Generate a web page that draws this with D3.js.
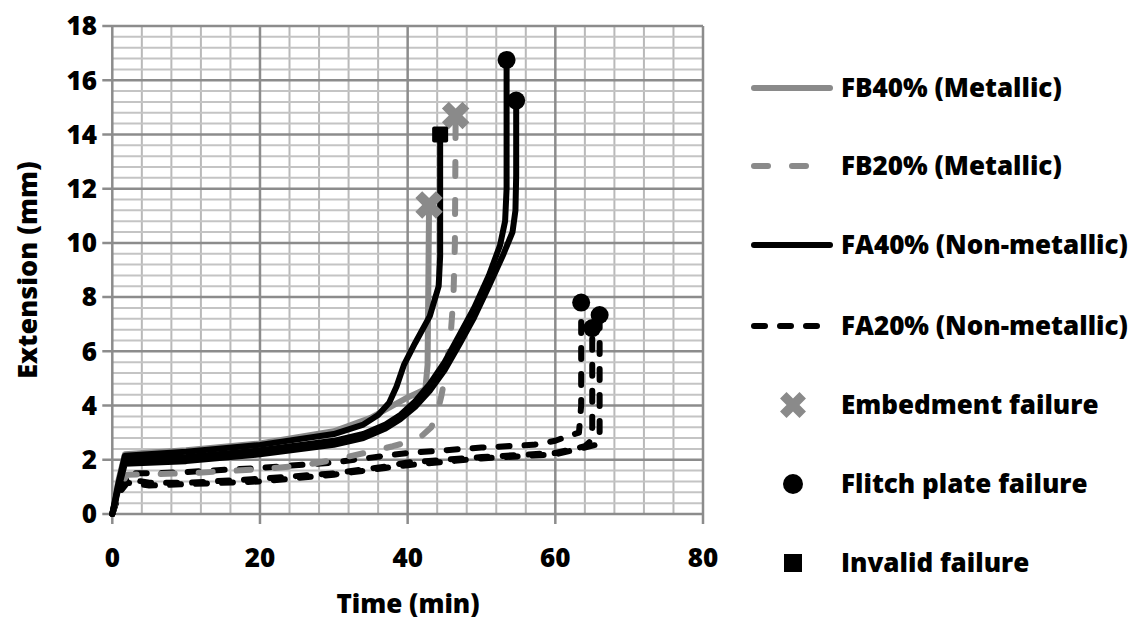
<!DOCTYPE html>
<html>
<head>
<meta charset="utf-8">
<script src="https://cdnjs.cloudflare.com/ajax/libs/d3/7.8.5/d3.min.js"></script>
<style>
  html, body { margin: 0; padding: 0; background: #fff; }
  svg { display: block; font-family: "Open Sans", Lato, sans-serif; font-weight: 800; }
</style>
</head>
<body>
<div id="chart"></div>
<script>
// [time (min), extension (mm)]
var fb40 = [[0,0],[0.8,1.2],[1.7,2.2],[10,2.35],[20,2.6],[30,3.05],[35,3.55],[37,3.85],[40,4.3],[42.4,4.6],[42.7,5.5],[42.9,11.4]];
var fb20 = [[0,0],[1,1.0],[2,1.45],[10,1.5],[20,1.65],[26,1.8],[30,2.0],[35,2.3],[38,2.5],[40,2.65],[42,2.9],[43.2,3.2],[44,3.7],[44.6,4.4],[45.2,5.3],[45.8,6.5],[46.2,8],[46.4,10],[46.5,14.7]];
var fa40a = [[0,0],[0.8,1.1],[1.7,2.15],[10,2.3],[20,2.55],[30,2.95],[34,3.3],[36,3.65],[37.5,4.1],[38.5,4.7],[39.5,5.5],[41,6.3],[43,7.3],[44.2,8.4],[44.4,9.5],[44.4,14]];
var fa40b = [[0,0],[0.8,1.0],[1.7,2.0],[10,2.1],[20,2.35],[30,2.7],[34,2.95],[37,3.3],[39,3.65],[41,4.15],[43,4.8],[45,5.6],[47,6.6],[49,7.6],[51,8.8],[52.5,9.9],[53.2,10.8],[53.4,12],[53.4,16.75]];
var fa40c = [[0,0],[0.8,0.9],[1.7,1.85],[10,1.95],[20,2.2],[30,2.55],[34,2.8],[37,3.15],[39,3.5],[41,3.95],[43,4.55],[45,5.3],[47,6.25],[49,7.25],[51,8.4],[53,9.6],[54.2,10.4],[54.6,11.2],[54.7,12.5],[54.7,15.25]];
var fa20a = [[0,0],[1,0.9],[2,1.5],[5,1.5],[10,1.55],[20,1.7],[30,1.9],[37,2.15],[40,2.25],[50,2.45],[57,2.55],[60,2.7],[62,2.9],[63.2,3.0],[63.5,4],[63.5,7.8]];
var fa20b = [[0,0],[1,0.9],[2,1.3],[5,1.15],[10,1.15],[20,1.3],[30,1.5],[37,1.75],[40,1.9],[50,2.1],[60,2.25],[64,2.5],[64.8,2.7],[65,3.2],[65,6.86]];
var fa20c = [[0,0],[1,0.8],[2,1.15],[5,1.05],[10,1.1],[20,1.2],[30,1.45],[37,1.7],[40,1.8],[50,2.05],[60,2.2],[65.5,2.55],[66,3],[66,7.34]];

var embedment = [[42.9,11.4],[46.5,14.7]];
var flitch = [[53.4,16.75],[54.7,15.25],[63.5,7.8],[65,6.86],[66,7.34]];
var invalid = [[44.4,14.0]];

var xTicks = [0, 20, 40, 60, 80];
var yTicks = [0, 2, 4, 6, 8, 10, 12, 14, 16, 18];
var legendLabels = ["FB40% (Metallic)", "FB20% (Metallic)", "FA40% (Non-metallic)", "FA20% (Non-metallic)",
                    "Embedment failure", "Flitch plate failure", "Invalid failure"];

var width = 1132, height = 622;
var grey = "#8a8a8a";
var svg = d3.select("#chart").append("svg").attr("width", width).attr("height", height);

var x = d3.scaleLinear().domain([0, 80]).range([112.3, 703]);
var y = d3.scaleLinear().domain([0, 18]).range([514, 26]);

// grid
var grid = svg.append("g");
grid.selectAll(".vmin").data(d3.range(0, 81, 4).filter(d => d % 20))
  .enter().append("line")
    .attr("x1", d => x(d)).attr("x2", d => x(d)).attr("y1", y(0)).attr("y2", y(18))
    .attr("stroke", "#b9b9b9").attr("stroke-width", 2);
grid.selectAll(".hmin").data(d3.range(0, 45).map(i => i * 0.4).filter(d => Math.abs(d / 2 - Math.round(d / 2)) > 0.01))
  .enter().append("line")
    .attr("x1", x(0)).attr("x2", x(80)).attr("y1", d => y(d)).attr("y2", d => y(d))
    .attr("stroke", "#c4c4c4").attr("stroke-width", 2);
grid.selectAll(".vmaj").data(xTicks)
  .enter().append("line")
    .attr("x1", d => x(d)).attr("x2", d => x(d)).attr("y1", y(0) + 10).attr("y2", y(18))
    .attr("stroke", "#8c8c8c").attr("stroke-width", 2.5);
grid.selectAll(".hmaj").data(yTicks)
  .enter().append("line")
    .attr("x1", x(0) - 10).attr("x2", x(80)).attr("y1", d => y(d)).attr("y2", d => y(d))
    .attr("stroke", "#8c8c8c").attr("stroke-width", 2.5);

// tick labels
svg.append("g").selectAll("text").data(yTicks).enter().append("text")
    .attr("x", 97).attr("y", d => y(d)).attr("dy", "0.36em")
    .attr("text-anchor", "end").attr("font-size", 26).text(d => d);
svg.append("g").selectAll("text").data(xTicks).enter().append("text")
    .attr("x", d => x(d)).attr("y", 567)
    .attr("text-anchor", "middle").attr("font-size", 26).text(d => d);

svg.append("text").attr("x", 408).attr("y", 613).attr("text-anchor", "middle")
  .attr("font-size", 26).text("Time (min)");
svg.append("text").attr("transform", "translate(37,270) rotate(-90)").attr("text-anchor", "middle")
  .attr("font-size", 27).text("Extension (mm)");

var line = d3.line().x(d => x(d[0])).y(d => y(d[1]));

var styles = {
  fb40: { stroke: grey, dash: null },
  fb20: { stroke: grey, dash: "14 24" },
  fa40: { stroke: "#000", dash: null },
  fa20: { stroke: "#000", dash: "11 15" }
};

function drawSeries(pts, st) {
  svg.append("path").attr("d", line(pts)).attr("fill", "none")
    .attr("stroke", st.stroke).attr("stroke-width", 6)
    .attr("stroke-linecap", "round").attr("stroke-linejoin", "round")
    .attr("stroke-dasharray", st.dash);
}
[fa20a, fa20b, fa20c].forEach(p => drawSeries(p, styles.fa20));
drawSeries(fb20, styles.fb20);
drawSeries(fb40, styles.fb40);
[fa40a, fa40b, fa40c].forEach(p => drawSeries(p, styles.fa40));

// failure markers
var crossPath = d3.symbol().type(d3.symbolCross).size(470)();
svg.append("g").selectAll("path").data(embedment).enter().append("path")
    .attr("d", crossPath).attr("fill", grey)
    .attr("transform", d => "translate(" + x(d[0]) + "," + y(d[1]) + ") rotate(45)");
svg.append("g").selectAll("circle").data(flitch).enter().append("circle")
    .attr("cx", d => x(d[0])).attr("cy", d => y(d[1])).attr("r", 9).attr("fill", "#000");
svg.append("g").selectAll("rect").data(invalid).enter().append("rect")
    .attr("x", d => x(d[0]) - 8).attr("y", d => y(d[1]) - 8).attr("width", 16).attr("height", 16)
    .attr("rx", 2).attr("fill", "#000");

// legend
var legY = [88, 166, 245, 326, 405, 484, 563];
var leg = svg.append("g");
var lineStyles = [styles.fb40, styles.fb20, styles.fa40, styles.fa20];
lineStyles.forEach(function(st, i) {
  leg.append("line").attr("x1", 754).attr("x2", 830).attr("y1", legY[i]).attr("y2", legY[i])
    .attr("stroke", st.stroke).attr("stroke-width", 6).attr("stroke-linecap", "round")
    .attr("stroke-dasharray", st.dash);
});
leg.append("path").attr("d", d3.symbol().type(d3.symbolCross).size(420)())
  .attr("fill", grey).attr("transform", "translate(793," + legY[4] + ") rotate(45)");
leg.append("circle").attr("cx", 793).attr("cy", legY[5]).attr("r", 10).attr("fill", "#000");
leg.append("rect").attr("x", 784).attr("y", legY[6] - 9).attr("width", 18).attr("height", 18).attr("fill", "#000");
leg.selectAll("text").data(legendLabels).enter().append("text")
    .attr("x", 841).attr("y", (d, i) => legY[i]).attr("dy", "0.36em")
    .attr("font-size", 26).text(d => d);
</script>
</body>
</html>
